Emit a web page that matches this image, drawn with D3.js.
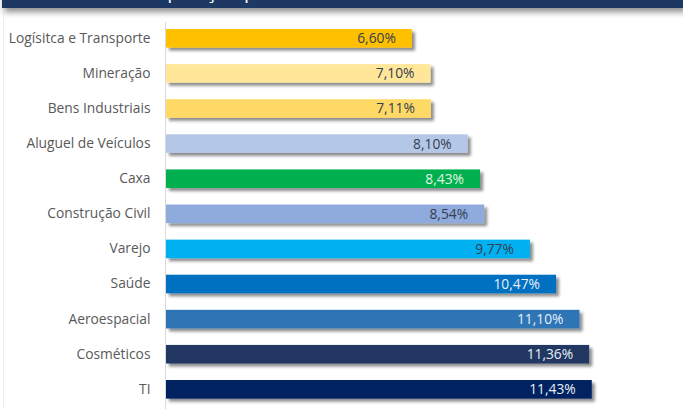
<!DOCTYPE html>
<html>
<head>
<meta charset="utf-8">
<script src="https://cdn.jsdelivr.net/npm/d3@7"></script>
<style>
  body { margin: 0; background: #fff; }
  text { font-family: "Open Sans", Lato, sans-serif; }
</style>
</head>
<body>
<div id="vis"></div>
<script>
// data
const sectors = ['Logísitca e Transporte', 'Mineração', 'Bens Industriais', 'Aluguel de Veículos',
  'Caxa', 'Construção Civil', 'Varejo', 'Saúde', 'Aeroespacial', 'Cosméticos', 'TI'];
const values = [6.60, 7.10, 7.11, 8.10, 8.43, 8.54, 9.77, 10.47, 11.10, 11.36, 11.43];
const barColors = ['#FFC000', '#FFE699', '#FFD966', '#B4C7E7', '#00B050', '#8FAADC',
  '#00B0F0', '#0070C0', '#2E75B6', '#203864', '#002060'];
const labelColors = ['#333F50', '#333F50', '#333F50', '#333F50', '#E2F5E2', '#333F50',
  '#333F50', '#E8EEF8', '#E8EEF8', '#E8EEF8', '#E8EEF8'];
const title = 'Composição por setores da carteira recomendada';

const data = sectors.map((s, i) => ({sector: s, value: values[i], color: barColors[i], tc: labelColors[i]}));

const W = 683, H = 409;
const margin = {top: 22, left: 166};
const step = 35.1;

const svg = d3.select('#vis').append('svg')
  .attr('width', W).attr('height', H);

const defs = svg.append('defs');
const f = defs.append('filter').attr('id', 'shadow')
  .attr('x', '-10%').attr('y', '-40%').attr('width', '130%').attr('height', '200%');
f.append('feDropShadow').attr('dx', 3).attr('dy', 3).attr('stdDeviation', 1.8)
  .attr('flood-color', '#000').attr('flood-opacity', 0.45);
const hf = defs.append('filter').attr('id', 'hshadow')
  .attr('x', '-5%').attr('y', '-100%').attr('width', '110%').attr('height', '400%');
hf.append('feDropShadow').attr('dx', 2).attr('dy', 4).attr('stdDeviation', 3)
  .attr('flood-color', '#000').attr('flood-opacity', 0.45);

// chart frame
svg.append('line')
  .attr('x1', 3.5).attr('x2', 3.5).attr('y1', 12).attr('y2', H)
  .attr('stroke', '#eeeeee');

// header band (title mostly above the window, only descenders show)
svg.append('rect')
  .attr('x', 2).attr('y', -20).attr('width', W).attr('height', 28)
  .attr('fill', '#1F3864').attr('filter', 'url(#hshadow)');
svg.append('text')
  .attr('x', 124).attr('y', -2)
  .attr('fill', '#fff').style('font-size', '20px')
  .text(title);

const xScale = d3.scaleLinear().domain([0, 12]).range([0, 12 * 37.25]);
const yScale = d3.scaleBand().domain(sectors)
  .range([margin.top, margin.top + step * (11 - 0.47 + 0.4)])
  .paddingInner(0.47).paddingOuter(0.2);

// category axis
const yAxis = d3.axisLeft(yScale).tickSize(0).tickPadding(15);
const ga = svg.append('g')
  .attr('transform', `translate(${margin.left - 0.5},0)`)
  .call(yAxis);
ga.select('.domain').remove();
ga.selectAll('text')
  .style('font-family', '"Open Sans", Lato, sans-serif')
  .style('font-size', '13.8px')
  .attr('fill', '#595959');

svg.append('line')
  .attr('x1', margin.left - 0.5).attr('x2', margin.left - 0.5)
  .attr('y1', margin.top).attr('y2', H)
  .attr('stroke', '#d9d9d9');

svg.selectAll('.bar')
  .data(data)
  .join('rect')
  .attr('class', 'bar')
  .attr('x', margin.left)
  .attr('y', d => yScale(d.sector))
  .attr('width', d => xScale(d.value))
  .attr('height', yScale.bandwidth())
  .attr('fill', d => d.color)
  .attr('filter', 'url(#shadow)');

svg.selectAll('.val')
  .data(data)
  .join('text')
  .attr('class', 'val')
  .attr('x', d => margin.left + xScale(d.value) - 16)
  .attr('y', d => yScale(d.sector) + yScale.bandwidth() / 2)
  .attr('dy', '0.36em')
  .attr('text-anchor', 'end')
  .attr('fill', d => d.tc)
  .style('font-size', '13.8px')
  .text(d => d.value.toFixed(2).replace('.', ',') + '%');
</script>
</body>
</html>
